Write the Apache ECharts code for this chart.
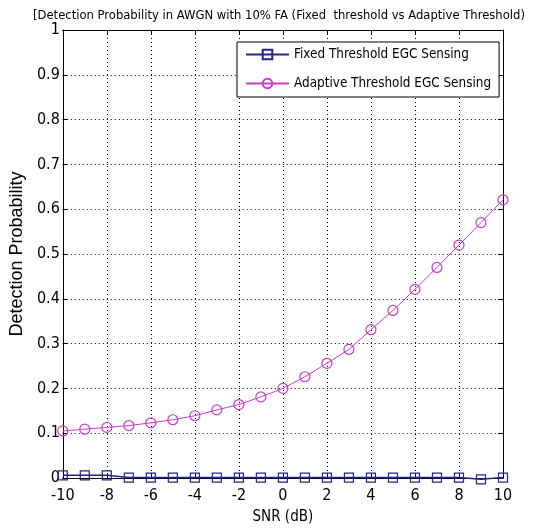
<!DOCTYPE html>
<html>
<head>
<meta charset="utf-8">
<script src="https://cdn.jsdelivr.net/npm/echarts@6/dist/echarts.min.js"></script>
<style>
  html, body { margin: 0; padding: 0; background: #fff; }
  #chart { width: 535px; height: 530px; }
</style>
</head>
<body>
<div id="chart"></div>
<script>
// SNR values (dB)
const snr = [-10, -9, -8, -7, -6, -5, -4, -3, -2, -1, 0, 1, 2, 3, 4, 5, 6, 7, 8, 9, 10];
// detection probability
const fixedPd = [0.006, 0.006, 0.006, 0.001, 0.001, 0.001, 0.001, 0.001, 0.001, 0.001, 0.001,
                 0.001, 0.001, 0.001, 0.001, 0.001, 0.001, 0.001, 0.001, -0.003, 0.001];
const adaptivePd = [0.105, 0.109, 0.113, 0.117, 0.123, 0.130, 0.139, 0.152, 0.164, 0.181, 0.200,
                    0.226, 0.256, 0.287, 0.331, 0.374, 0.421, 0.470, 0.520, 0.570, 0.621];
const yTickLabels = ['0', '0.1', '0.2', '0.3', '0.4', '0.5', '0.6', '0.7', '0.8', '0.9', '1'];

const narrow = '"DejaVu Sans Condensed", "Liberation Sans", sans-serif';
const fixedColor = '#23238c';
const adaptiveColor = '#c83cc8';

// matlab style box: axis lines on all four sides, ticks pointing in
function boxAxis(extra) {
    return Object.assign({
        type: 'value',
        axisLine: {show: true, onZero: false, lineStyle: {color: '#000', width: 1}},
        axisTick: {show: true, inside: true, length: 5, lineStyle: {color: '#000'}},
        axisLabel: {show: false},
        splitLine: {show: false}
    }, extra);
}

function initChart() {
    let chart = echarts.init(document.getElementById('chart'));
    let gridLine = {show: true, lineStyle: {color: '#000', type: [1, 3], width: 1}};
    let option = {
        animation: false,
        title: {
            text: '[Detection Probability in AWGN with 10% FA (Fixed  threshold vs Adaptive Threshold)',
            left: 28,
            top: 4,
            textStyle: {fontFamily: narrow, fontSize: 12.9, fontWeight: 'normal', color: '#000'}
        },
        grid: {left: 53, right: 32, top: 30, bottom: 50},
        legend: {
            orient: 'vertical',
            left: 237,
            top: 42,
            padding: [6, 8, 7, 8],
            itemWidth: 43,
            itemHeight: 12,
            itemGap: 16,
            backgroundColor: '#fff',
            borderColor: '#000',
            borderWidth: 1,
            borderRadius: 0,
            textStyle: {fontFamily: narrow, fontSize: 13.4, color: '#000'},
            data: ['Fixed Threshold EGC Sensing', 'Adaptive Threshold EGC Sensing']
        },
        xAxis: [
            boxAxis({
                min: -10,
                max: 10,
                interval: 2,
                name: 'SNR (dB)',
                nameLocation: 'middle',
                nameGap: 32,
                nameTextStyle: {fontFamily: narrow, fontSize: 15, color: '#000'},
                axisLabel: {show: true, fontFamily: narrow, fontSize: 16, color: '#000', margin: 10},
                splitLine: gridLine
            }),
            boxAxis({position: 'top', min: -10, max: 10, interval: 2})
        ],
        yAxis: [
            boxAxis({
                min: 0,
                max: 1,
                interval: 0.1,
                name: 'Detection Probability',
                nameLocation: 'middle',
                nameGap: 30,
                nameTextStyle: {fontFamily: '"Liberation Sans", Arial, sans-serif', fontSize: 18, color: '#000'},
                axisLabel: {
                    show: true, fontFamily: narrow, fontSize: 16, color: '#000', margin: 3,
                    formatter: function (value) {
                        return yTickLabels[Math.round(value * 10)];
                    }
                },
                splitLine: gridLine
            }),
            boxAxis({position: 'right', min: 0, max: 1, interval: 0.1})
        ],
        series: [
            {
                name: 'Fixed Threshold EGC Sensing',
                type: 'line',
                clip: false,
                data: snr.map((x, i) => [x, fixedPd[i]]),
                symbol: 'rect',
                symbolSize: 9,
                lineStyle: {color: fixedColor, width: 1.5},
                itemStyle: {color: 'rgba(0,0,0,0)', borderColor: fixedColor, borderWidth: 1.2}
            },
            {
                name: 'Adaptive Threshold EGC Sensing',
                type: 'line',
                clip: false,
                data: snr.map((x, i) => [x, adaptivePd[i]]),
                symbol: 'circle',
                symbolSize: 10,
                lineStyle: {color: adaptiveColor, width: 1},
                itemStyle: {color: 'rgba(0,0,0,0)', borderColor: adaptiveColor, borderWidth: 1.2}
            }
        ]
    };
    chart.setOption(option);
}

initChart();
</script>
</body>
</html>
